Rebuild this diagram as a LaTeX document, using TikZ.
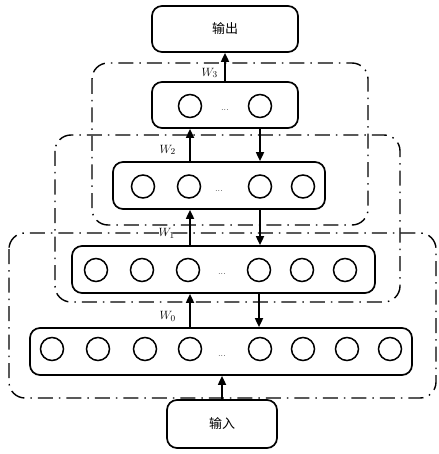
\documentclass[tikz,border=0pt]{standalone}
\usepackage{fontspec}
\newfontfamily\cjk{Noto Sans CJK SC}
\usetikzlibrary{arrows.meta}
\begin{document}
\begin{tikzpicture}[x=1pt,y=-1pt,
  layerbox/.style={draw, line width=1.7pt, rounded corners=10pt, inner sep=0pt},
  neuron/.style={draw, circle, line width=1.5pt, minimum size=23pt, inner sep=0pt},
  grp/.style={draw, line width=1.4pt, rounded corners=16pt, dash pattern=on 15pt off 6pt on 1.5pt off 6pt},
  arr/.style={-{Triangle[length=9pt,width=8pt]}, line width=1.7pt},
  wlab/.style={anchor=east, inner sep=0pt, font=\fontsize{13}{15}\selectfont},
  dotsl/.style={inner sep=0pt, font=\small},
  cjklab/.style={font=\cjk\fontsize{13}{15}\selectfont}]
\useasboundingbox (0,0) rectangle (438,454);
% groups
\draw[grp] (92,63) rectangle (368,225);
\draw[grp] (55,135) rectangle (400,302);
\draw[grp] (9,233) rectangle (436,398);
% boxes
\node[layerbox, minimum width=146pt, minimum height=46pt, cjklab] (out) at (225,29) {输出};
\node[layerbox, minimum width=146pt, minimum height=46pt] (l3) at (225,105) {};
\node[layerbox, minimum width=212pt, minimum height=47pt] (l2) at (219,185.5) {};
\node[layerbox, minimum width=303pt, minimum height=47pt] (l1) at (223.5,269.5) {};
\node[layerbox, minimum width=382pt, minimum height=47pt] (l0) at (221,351.5) {};
\node[layerbox, minimum width=110pt, minimum height=48pt, cjklab] (in) at (222,424) {输入};
% neurons layer 3
\node[neuron] (n3a) at (190,106) {};
\node[neuron] (n3b) at (260,106) {};
\node[dotsl] (d3) at (225,110) {...};
% layer 2
\node[neuron] (n2a) at (143,186.5) {};
\node[neuron] (n2b) at (189,186.5) {};
\node[neuron] (n2c) at (260,186.5) {};
\node[neuron] (n2d) at (303,186.5) {};
\node[dotsl] (d2) at (219,191) {...};
% layer 1
\node[neuron] (n1a) at (96,270) {};
\node[neuron] (n1b) at (142,270) {};
\node[neuron] (n1c) at (188,270) {};
\node[neuron] (n1d) at (259,270) {};
\node[neuron] (n1e) at (302,270) {};
\node[neuron] (n1f) at (345,270) {};
\node[dotsl] (d1) at (222,274) {...};
% layer 0
\node[neuron] (n0a) at (52,349) {};
\node[neuron] (n0b) at (98,349) {};
\node[neuron] (n0c) at (145,349) {};
\node[neuron] (n0d) at (190,349) {};
\node[neuron] (n0e) at (260,349) {};
\node[neuron] (n0f) at (303,349) {};
\node[neuron] (n0g) at (347,349) {};
\node[neuron] (n0h) at (390,349) {};
\node[dotsl] (d0) at (222,356) {...};
% arrows
\draw[arr] (l3.north) -- (out.south);
\draw[arr] (l2.north -| n3a) -- (l3.south -| n3a);
\draw[arr] (l3.south -| n3b) -- (l2.north -| n3b);
\draw[arr] (l1.north -| n0d) -- (l2.south -| n0d);
\draw[arr] (l2.south -| n2c) -- (l1.north -| n2c);
\draw[arr] (l0.north -| n0d) -- (l1.south -| n0d);
\draw[arr] (l1.south -| n1d) -- (l0.north -| n1d);
\draw[arr] (in.north) -- (in.north |- l0.south);
% labels
\node[wlab] (w3) at (218,73) {$W_3$};
\node[wlab] (w2) at (176,150) {$W_2$};
\node[wlab] (w1) at (175,233) {$W_1$};
\node[wlab] (w0) at (176,316) {$W_0$};
\end{tikzpicture}
\end{document}
